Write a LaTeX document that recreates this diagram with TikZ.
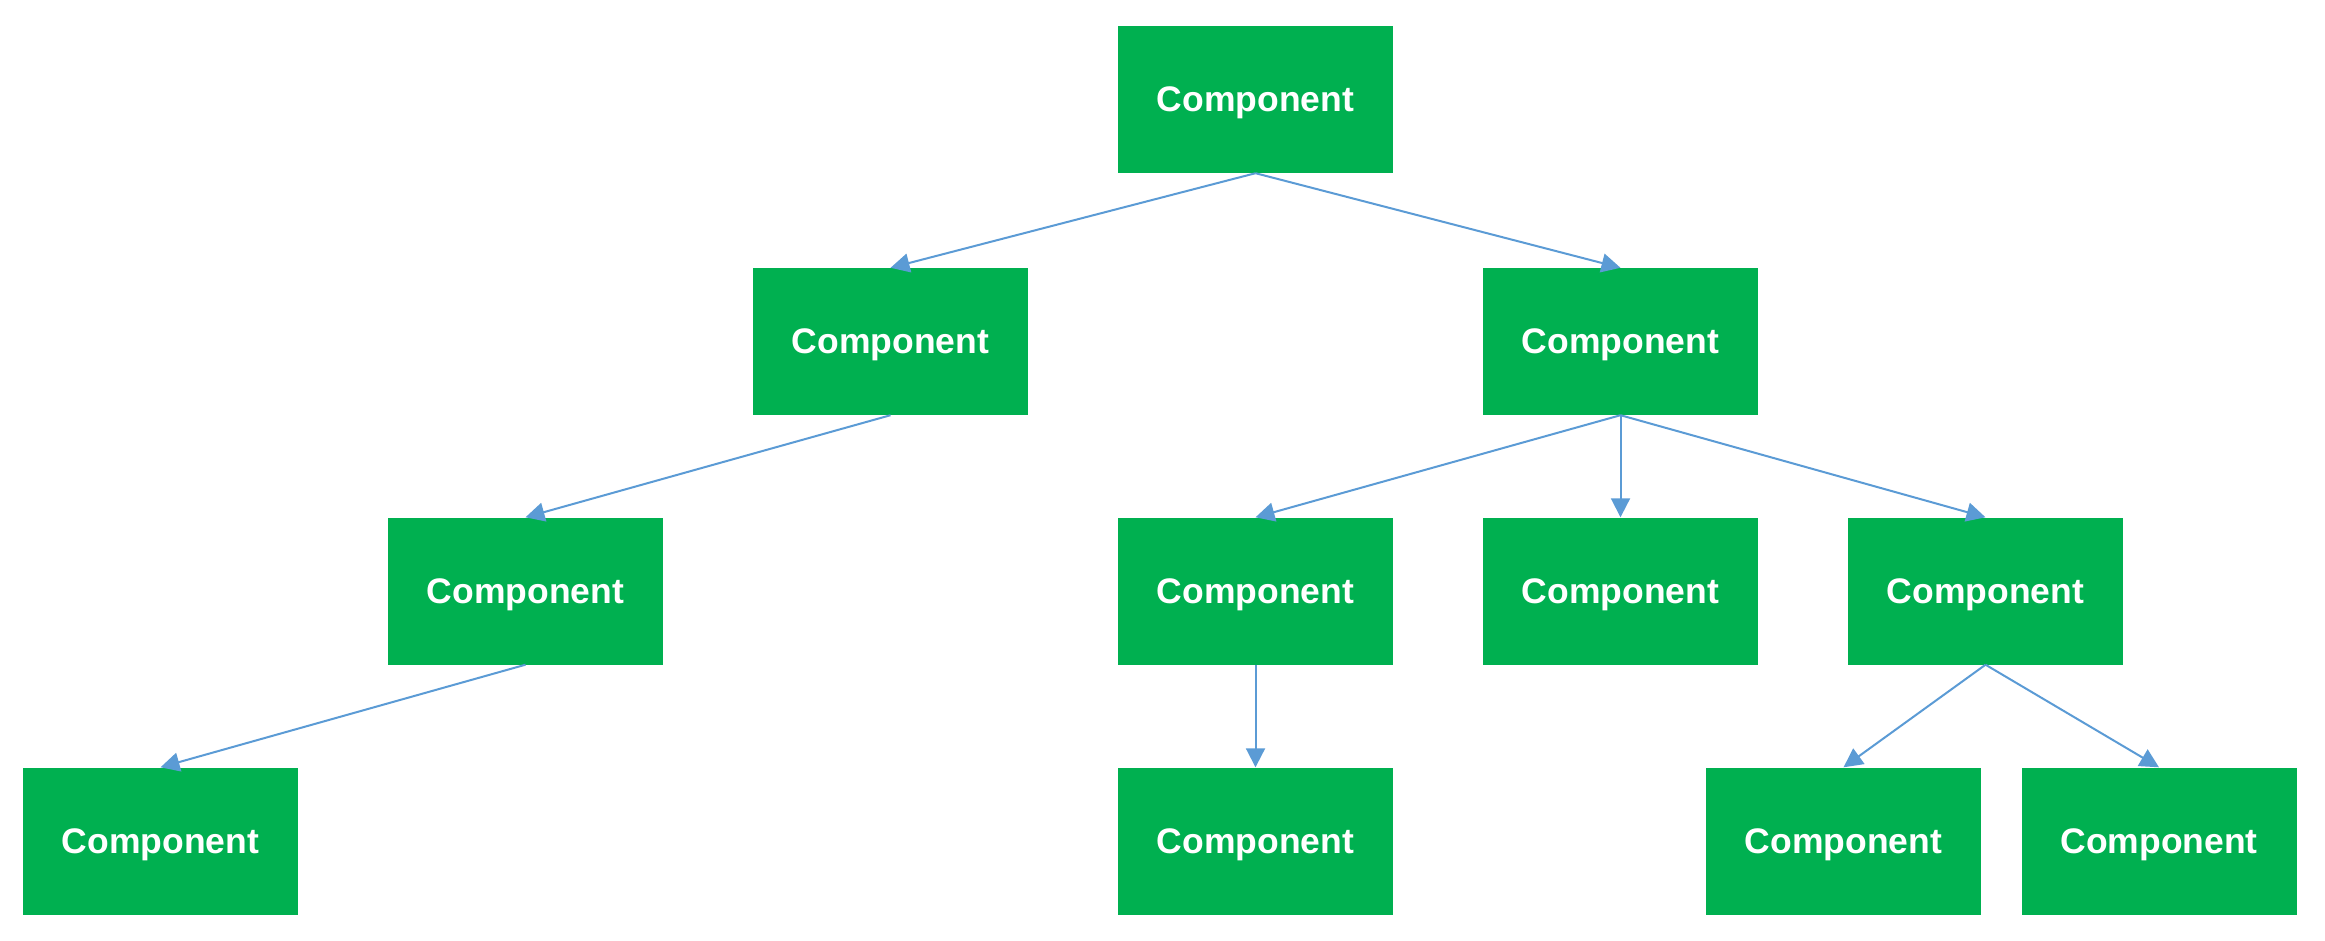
\documentclass[tikz,border=0pt]{standalone}
\usepackage{fontspec}
\setmainfont{Liberation Sans}
\usetikzlibrary{arrows.meta}
\definecolor{boxgreen}{HTML}{00B050}
\definecolor{linkblue}{HTML}{5B9BD5}
\begin{document}
\begin{tikzpicture}[x=1pt,y=-1pt,
  comp/.style={rectangle, fill=boxgreen, draw=none, minimum width=275pt, minimum height=147pt, inner sep=0pt,
    text depth=0pt, text=white, font=\fontsize{35.5}{42}\selectfont\bfseries},
  link/.style={draw=linkblue, line width=2pt, -{Triangle[length=19pt,width=19pt]}}]
\useasboundingbox (0,0) rectangle (2325,940);
\node[comp] (n0) at (1255.5,99.5) {Component};
\node[comp] (n1) at (890.5,341.5) {Component};
\node[comp] (n2) at (1620.5,341.5) {Component};
\node[comp] (n3) at (525.5,591) {Component};
\node[comp] (n4) at (1255.5,591) {Component};
\node[comp] (n5) at (1620.5,591) {Component};
\node[comp] (n6) at (1985.5,591) {Component};
\node[comp] (n7) at (160.5,841) {Component};
\node[comp] (n8) at (1255.5,841) {Component};
\node[comp] (n9) at (1843.5,841) {Component};
\node[comp] (n10) at (2159,841) {Component};
\draw[link] (n0.south) -- (n1.north);
\draw[link] (n0.south) -- (n2.north);
\draw[link] (n1.south) -- (n3.north);
\draw[link] (n2.south) -- (n4.north);
\draw[link] (n2.south) -- (n5.north);
\draw[link] (n2.south) -- (n6.north);
\draw[link] (n3.south) -- (n7.north);
\draw[link] (n4.south) -- (n8.north);
\draw[link] (n6.south) -- (n9.north);
\draw[link] (n6.south) -- (n10.north);
\end{tikzpicture}
\end{document}
